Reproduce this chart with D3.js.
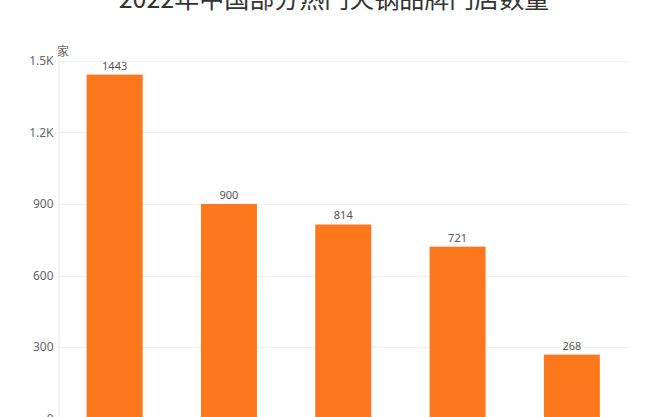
<!DOCTYPE html>
<html><head><meta charset="utf-8">
<script src="https://cdn.jsdelivr.net/npm/d3@7"></script>
<style>
html,body{margin:0;padding:0;background:#fff;}
svg{display:block;font-family:"Noto Sans CJK SC","Noto Sans",sans-serif;}
</style></head>
<body><svg id="c" width="668" height="417"></svg>
<script>
const title = "2022年中国部分热门火锅品牌门店数量";
const categories = ["海底捞", "小龙坎", "谭鸭血", "大龙燚", "巴奴毛肚火锅"];
const values = [1443, 900, 814, 721, 268];
const yTicks = [0, 300, 600, 900, 1200, 1500];
const yTickLabels = ["0", "300", "600", "900", "1.2K", "1.5K"];
const unit = "家";

const svg = d3.select("#c");
const x = d3.scaleBand().domain(categories).range([57.5, 629]).paddingInner(0.51).paddingOuter(0.255);
const y = d3.scaleLinear().domain([0, 1500]).range([418.5, 61]);

// title
svg.append("text").attr("x", 334).attr("y", 8).attr("text-anchor", "middle")
  .attr("font-size", 25).attr("fill", "#333").text(title);

// gridlines
svg.append("g").selectAll("line").data(yTicks.slice(1)).join("line")
  .attr("x1", 58).attr("x2", 629).attr("y1", d => Math.round(y(d)) + 0.5).attr("y2", d => Math.round(y(d)) + 0.5)
  .attr("stroke", "#f0f0f0").attr("stroke-width", 1);

// y axis
const yAxis = d3.axisLeft(y).tickValues(yTicks).tickSize(0).tickPadding(5)
  .tickFormat((d, i) => yTickLabels[i]);
const gy = svg.append("g").attr("transform", "translate(58.5,0)").call(yAxis);
gy.select(".domain").attr("stroke", "#e6e6e6");
gy.selectAll("text").attr("font-size", 12).attr("fill", "#666").attr("font-family", "'Noto Sans', sans-serif");

// unit
svg.append("text").attr("x", 57).attr("y", 56).attr("font-size", 12).attr("fill", "#666").text(unit);

// bars
svg.append("g").selectAll("rect").data(values).join("rect")
  .attr("x", (d, i) => x(categories[i])).attr("width", x.bandwidth())
  .attr("y", d => y(d)).attr("height", d => y(0) - y(d))
  .attr("fill", "#fd771d");

// value labels
svg.append("g").selectAll("text").data(values).join("text")
  .attr("x", (d, i) => x(categories[i]) + x.bandwidth() / 2).attr("y", d => y(d) - 5)
  .attr("text-anchor", "middle").attr("font-size", 11).attr("fill", "#555")
  .attr("font-family", "'Noto Sans', sans-serif").text(d => d);

// x axis labels (below visible area)
const xAxis = d3.axisBottom(x).tickSize(0).tickPadding(8);
const gx = svg.append("g").attr("transform", "translate(0,418.5)").call(xAxis);
gx.select(".domain").attr("stroke", "#e6e6e6");
gx.selectAll("text").attr("font-size", 12).attr("fill", "#666");
</script></body></html>
